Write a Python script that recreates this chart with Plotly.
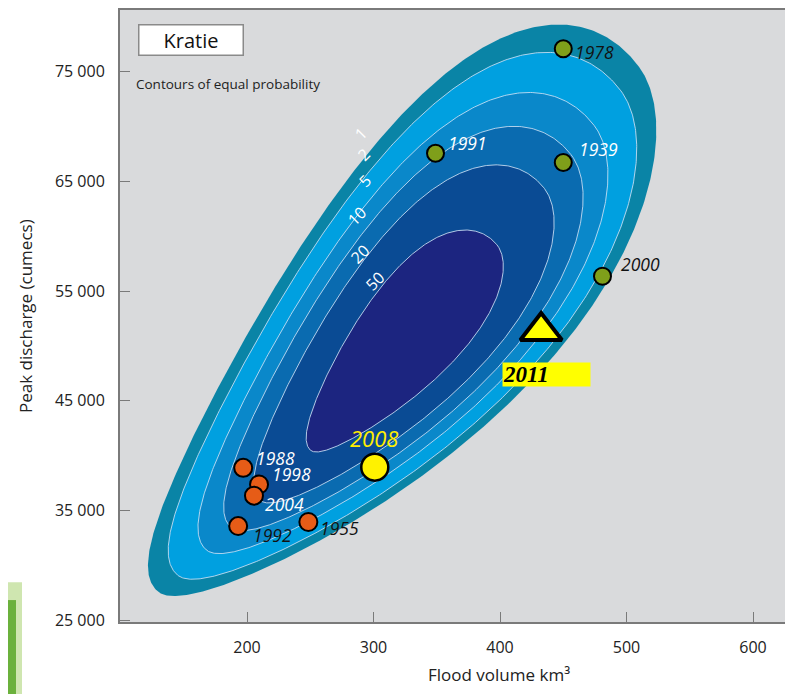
import numpy as np
import plotly.graph_objects as go

# ---------------- data ----------------
# Observed flood events: year, flood volume (km3), peak discharge (cumecs)
green_years = ["1978", "1991", "1939", "2000"]
green_volume = [450, 349, 450, 481]
green_peak = [77100, 67570, 66730, 56360]

orange_years = ["1988", "1998", "2004", "1992", "1955"]
orange_volume = [197, 209.5, 205.5, 193, 248.5]
orange_peak = [38880, 37360, 36340, 33570, 33940]

yellow_year = ["2008"]
yellow_volume = [301]
yellow_peak = [38940]

tri_year = ["2011"]
tri_volume = [432.5]
tri_peak = [51360]

# Joint distribution model (volume, sqrt(peak)) used for the contours of equal probability
mean_volume = 326.0
sd_volume = 67.75
mean_sqrt_peak = 223.6
sd_sqrt_peak = 19.35
correlation = 0.71
egg_skew = 0.3
lower_side_squeeze = 0.27  # lower-right flank of each contour is flatter
drift_volume = -0.03       # centre drift per unit of contour radius (standardised)
drift_peak = -0.055
prob_levels = [1, 2, 5, 10, 20, 50]          # percent
band_colors = ["#0a84a6", "#00a0e0", "#0a88ca", "#0a6bb0", "#0a4b94", "#1c2580"]

x_tickvals = [200, 300, 400, 500, 600]
x_ticktext = ["200", "300", "400", "500", "600"]
y_tickvals = [25000, 35000, 45000, 55000, 65000, 75000]
y_ticktext = ["25 000", "35 000", "45 000", "55 000", "65 000", "75 000"]

# ---------------- geometry helpers (page pixels -> paper) ----------------
PL, PT, PW, PH = 120, 8, 673, 614


def px(x):
    return (x - PL) / PW


def py(y):
    return 1 - (y - PT) / PH


# ---------------- figure ----------------
fig = go.Figure()

t = np.linspace(0, 2 * np.pi, 600)
side = np.where(np.sin(t) < 0, 1 - lower_side_squeeze, 1.0)
for i, (p, col) in enumerate(zip(prob_levels, band_colors)):
    d = np.sqrt(-2 * np.log(p / 100.0))
    u = d * np.sqrt(1 + correlation) * np.cos(t)
    w = d * np.sqrt(1 - correlation) * (1 + egg_skew * np.cos(t)) * np.sin(t) * side
    zv = (u - w) / np.sqrt(2) + drift_volume * d
    zb = (u + w) / np.sqrt(2) + drift_peak * d
    v = mean_volume + sd_volume * zv
    q = (mean_sqrt_peak + sd_sqrt_peak * zb) ** 2
    fig.add_trace(go.Scatter(
        x=v, y=q, mode="lines", fill="toself", fillcolor=col,
        line=dict(color="rgba(0,0,0,0)" if i == 0 else "rgba(205,225,245,0.85)", width=1),
        hoverinfo="skip", showlegend=False))

mk_line = dict(color="black", width=2)
fig.add_trace(go.Scatter(x=green_volume, y=green_peak, mode="markers",
                         marker=dict(size=17, color="#7f9f1a", line=mk_line), showlegend=False))
fig.add_trace(go.Scatter(x=orange_volume, y=orange_peak, mode="markers",
                         marker=dict(size=18, color="#e65c17", line=mk_line), showlegend=False))
fig.add_trace(go.Scatter(x=yellow_volume, y=yellow_peak, mode="markers",
                         marker=dict(size=27, color="#fff200", line=dict(color="black", width=2.5)),
                         showlegend=False))
fig.add_trace(go.Scatter(x=tri_volume, y=tri_peak, mode="markers",
                         marker=dict(size=36, symbol="triangle-up", color="#ffff00",
                                     line=dict(color="black", width=4)),
                         showlegend=False))

label_style = {
    "1978": ("#111111", 31, -3), "1991": ("white", 32, 10), "1939": ("white", 35, 13),
    "2000": ("#111111", 38, 12), "1988": ("white", 32, 10), "1998": ("white", 32, 10),
    "2004": ("white", 31, -8), "1992": ("#111111", 34, -9), "1955": ("#111111", 31, -6),
}
for yrs, vs, qs in [(green_years, green_volume, green_peak), (orange_years, orange_volume, orange_peak)]:
    for yr, v, q in zip(yrs, vs, qs):
        col, dx, dy = label_style[yr]
        fig.add_annotation(x=v, y=q, text="<i>%s</i>" % yr, showarrow=False,
                           xanchor="center", yanchor="middle",
                           xshift=dx, yshift=dy, font=dict(family="Open Sans", size=17.5, color=col))

fig.add_annotation(x=yellow_volume[0], y=yellow_peak[0], text="<i>%s</i>" % yellow_year[0],
                   showarrow=False, xanchor="center", yanchor="middle", xshift=-1, yshift=29,
                   font=dict(family="Open Sans", size=22, color="#ffee00"))
fig.add_annotation(x=tri_volume[0], y=tri_peak[0], text="<b><i>%s</i></b>" % tri_year[0],
                   showarrow=False, xanchor="center", yanchor="middle",
                   xshift=5, yshift=-44, width=87, height=23, align="left",
                   bgcolor="#ffff00", borderpad=0,
                   font=dict(family="Liberation Serif", size=23, color="black"))

# contour labels (white, rotated)
contour_label_pos = [(360, 132, "1"), (363, 153, "2"), (365, 180, "5"),
                     (357, 215, "10"), (360, 253, "20"), (375, 280, "50")]
for x0, y0, txt in contour_label_pos:
    fig.add_annotation(xref="paper", yref="paper", x=px(x0), y=py(y0),
                       xanchor="center", yanchor="middle",
                       text=txt, showarrow=False, textangle=-45,
                       font=dict(family="Open Sans", size=16, color="white"))

fig.add_annotation(xref="paper", yref="paper", x=px(190.5), y=py(38.5),
                   xanchor="center", yanchor="middle",
                   text="Kratie", showarrow=False, width=101, height=27,
                   bgcolor="white", bordercolor="#8a8a8a", borderwidth=1.5, borderpad=1,
                   font=dict(family="Open Sans", size=20, color="#111111"))
fig.add_annotation(xref="paper", yref="paper", x=px(134), y=py(82),
                   xanchor="left", yanchor="middle",
                   text="Contours of equal probability", showarrow=False,
                   font=dict(family="Open Sans", size=13.5, color="#222222"))
fig.add_annotation(xref="paper", yref="paper", x=px(499), y=py(675),
                   xanchor="center", yanchor="middle",
                   text="Flood volume km³", showarrow=False,
                   font=dict(family="Open Sans", size=17, color="#222222"))
fig.add_annotation(xref="paper", yref="paper", x=px(25), y=py(315),
                   xanchor="center", yanchor="middle",
                   text="Peak discharge (cumecs)", showarrow=False, textangle=-90,
                   font=dict(family="Open Sans", size=17, color="#222222"))

# slide decoration at bottom-left
fig.add_shape(type="rect", xref="paper", yref="paper",
              x0=px(8), x1=px(22), y0=py(700), y1=py(582),
              fillcolor="#cfe6b0", line=dict(width=0), layer="below")
fig.add_shape(type="rect", xref="paper", yref="paper",
              x0=px(8), x1=px(16), y0=py(700), y1=py(600),
              fillcolor="#6bb13c", line=dict(width=0), layer="below")

fig.update_layout(
    width=785, height=686,
    margin=dict(l=112, r=0, t=0, b=72),
    paper_bgcolor="white", plot_bgcolor="#d9dadc",
    showlegend=False,
    xaxis=dict(range=[99.6, 631.6], tickvals=x_tickvals, ticktext=x_ticktext,
               showgrid=False, zeroline=False, showline=True, linecolor="#7a7a7a", linewidth=2,
               mirror=True, ticks="inside", ticklen=10, tickcolor="#7a7a7a", tickwidth=1,
               ticklabelstandoff=10,
               tickfont=dict(family="Open Sans", size=16, color="#222222")),
    yaxis=dict(range=[24818, 80636], tickvals=y_tickvals, ticktext=y_ticktext,
               showgrid=False, zeroline=False, showline=True, linecolor="#7a7a7a", linewidth=2,
               ticks="inside", ticklen=10, tickcolor="#7a7a7a", tickwidth=1,
               ticklabelstandoff=10,
               tickfont=dict(family="Open Sans", size=16, color="#222222")),
)

fig.write_html("out.html")
